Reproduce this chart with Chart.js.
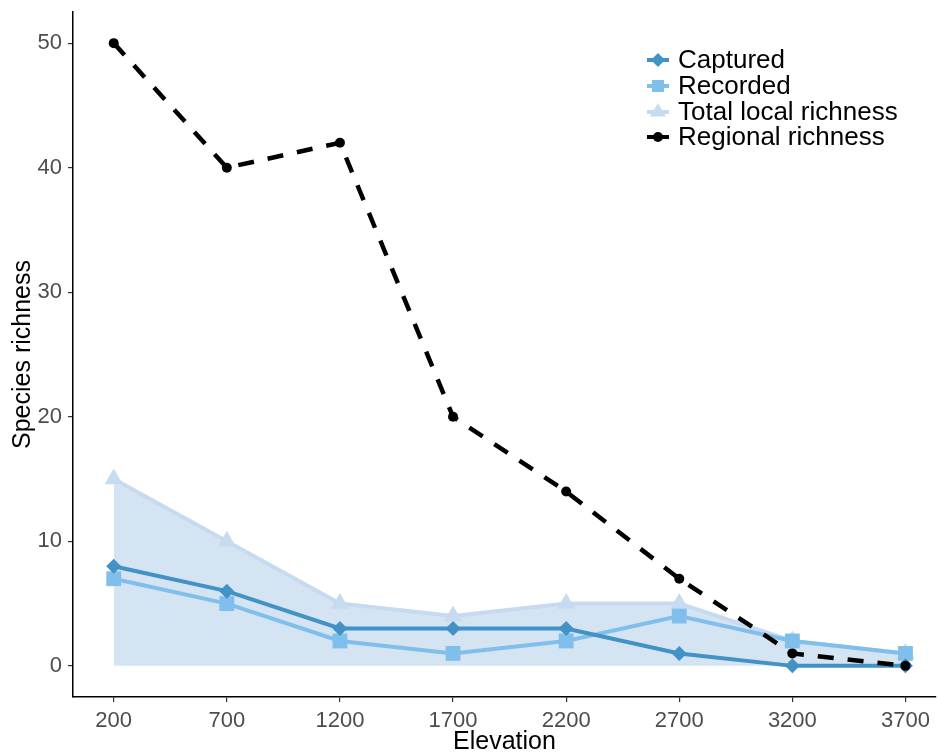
<!DOCTYPE html>
<html><head><meta charset="utf-8">
<script src="https://cdn.jsdelivr.net/npm/chart.js@4.4.1/dist/chart.umd.min.js"></script>
<style>html,body{margin:0;padding:0;background:#fff}canvas{display:block}</style>
</head><body>
<canvas id="c" width="938" height="753"></canvas>
<script>
const elevations = [200, 700, 1200, 1700, 2200, 2700, 3200, 3700];
const captured = [8, 6, 3, 3, 3, 1, 0, 0];
const recorded = [7, 5, 2, 1, 2, 4, 2, 1];
const totalLocal = [15, 10, 5, 4, 5, 5, 2, 1];
const regional = [50, 40, 42, 20, 14, 7, 1, 0];
const xTicks = [200, 700, 1200, 1700, 2200, 2700, 3200, 3700];
const yTicks = [0, 10, 20, 30, 40, 50];
const seriesNames = ['Captured', 'Recorded', 'Total local richness', 'Regional richness'];

const FONT = "'Liberation Sans', Arial, sans-serif";
const toXY = arr => arr.map((v, i) => ({x: elevations[i], y: v}));

function drawMarker(ctx, style, x, y, r, color) {
  ctx.save();
  ctx.fillStyle = color;
  ctx.beginPath();
  if (style === 'circle') {
    ctx.arc(x, y, r, 0, Math.PI * 2);
  } else if (style === 'rect') {
    const s = r * Math.SQRT1_2;
    ctx.rect(x - s, y - s, 2 * s, 2 * s);
  } else if (style === 'rectRot') {
    ctx.moveTo(x, y - r); ctx.lineTo(x + r, y); ctx.lineTo(x, y + r); ctx.lineTo(x - r, y);
    ctx.closePath();
  } else if (style === 'triangle') {
    ctx.moveTo(x, y - r);
    ctx.lineTo(x + r * 0.866, y + r * 0.5);
    ctx.lineTo(x - r * 0.866, y + r * 0.5);
    ctx.closePath();
  }
  ctx.fill();
  ctx.restore();
}

const legendPlugin = {
  id: 'customLegend',
  afterDatasetsDraw(chart) {
    const ctx = chart.ctx;
    const items = [
      {i: 0, r: 7, ry: 60},
      {i: 1, r: 8.5, ry: 86},
      {i: 2, r: 9, ry: 112},
      {i: 3, r: 5, ry: 137}
    ];
    items.forEach(it => {
      const ds = chart.data.datasets[it.i];
      ctx.save();
      ctx.strokeStyle = ds.borderColor;
      ctx.lineWidth = 4;
      ctx.beginPath();
      ctx.moveTo(647, it.ry); ctx.lineTo(669, it.ry);
      ctx.stroke();
      ctx.restore();
      drawMarker(ctx, ds.pointStyle, 658, it.ry, it.r, ds.pointBackgroundColor);
      ctx.save();
      ctx.fillStyle = '#000';
      ctx.font = '26px ' + FONT;
      ctx.textBaseline = 'middle';
      ctx.textAlign = 'left';
      ctx.fillText(ds.label, 678, it.ry + 1);
      ctx.restore();
    });
  }
};

new Chart(document.getElementById('c'), {
  type: 'line',
  data: {
    datasets: [
      {
        label: seriesNames[0], data: toXY(captured),
        borderColor: '#4292c6', backgroundColor: '#4292c6', borderWidth: 4,
        pointStyle: 'rectRot', pointRadius: 7.5, pointBackgroundColor: '#4292c6',
        pointBorderColor: '#4292c6', pointBorderWidth: 0, fill: false, order: 1, tension: 0
      },
      {
        label: seriesNames[1], data: toXY(recorded),
        borderColor: '#80bfeb', backgroundColor: '#80bfeb', borderWidth: 4,
        pointStyle: 'rect', pointRadius: 10.5, pointBackgroundColor: '#80bfeb',
        pointBorderColor: '#80bfeb', pointBorderWidth: 0, fill: false, order: 2, tension: 0
      },
      {
        label: seriesNames[2], data: toXY(totalLocal),
        borderColor: '#c6dbef', backgroundColor: 'rgba(198,219,239,0.75)', borderWidth: 4,
        pointStyle: 'triangle', pointRadius: 10.5, pointBackgroundColor: '#c6dbef',
        pointBorderColor: '#c6dbef', pointBorderWidth: 0, fill: 'origin', order: 3, tension: 0
      },
      {
        label: seriesNames[3], data: toXY(regional),
        borderColor: '#000', backgroundColor: '#000', borderWidth: 4.5, borderDash: [16, 14],
        pointStyle: 'circle', pointRadius: 5, pointBackgroundColor: '#000',
        pointBorderColor: '#000', pointBorderWidth: 0, fill: false, order: 0, tension: 0
      }
    ]
  },
  options: {
    responsive: false,
    animation: false,
    devicePixelRatio: 1,
    layout: {autoPadding: false, padding: {top: 12, right: 2, left: 0, bottom: 0}},
    plugins: {legend: {display: false}, tooltip: {enabled: false}},
    elements: {line: {borderCapStyle: 'butt'}},
    scales: {
      x: {
        type: 'linear', min: 20, max: 3835,
        afterBuildTicks: s => { s.ticks = xTicks.map(v => ({value: v})); },
        afterFit: s => { s.height = 56; s.paddingLeft = 0; s.paddingRight = 0; },
        ticks: {font: {size: 22, family: FONT}, color: '#4d4d4d', padding: 6, maxRotation: 0, autoSkip: false,
                callback: v => String(v)},
        grid: {display: true, drawOnChartArea: false, drawTicks: true, tickLength: 5, color: '#333', lineWidth: 1.2},
        border: {display: true, color: '#000', width: 1.5},
        title: {display: true, text: 'Elevation', font: {size: 25, family: FONT}, color: '#000', padding: {top: 0, bottom: -4}}
      },
      y: {
        type: 'linear', min: -2.5, max: 52.5,
        afterBuildTicks: s => { s.ticks = yTicks.map(v => ({value: v})); },
        afterFit: s => { s.width = 73; s.paddingTop = 0; s.paddingBottom = 0; },
        ticks: {font: {size: 22, family: FONT}, color: '#4d4d4d', padding: 6, callback: v => String(v)},
        grid: {display: true, drawOnChartArea: false, drawTicks: true, tickLength: 5, color: '#333', lineWidth: 1.2},
        border: {display: true, color: '#000', width: 1.5},
        title: {display: true, text: 'Species richness', font: {size: 25, family: FONT}, color: '#000', padding: {top: 8, bottom: 0}}
      }
    }
  },
  plugins: [legendPlugin]
});
</script>
</body></html>
